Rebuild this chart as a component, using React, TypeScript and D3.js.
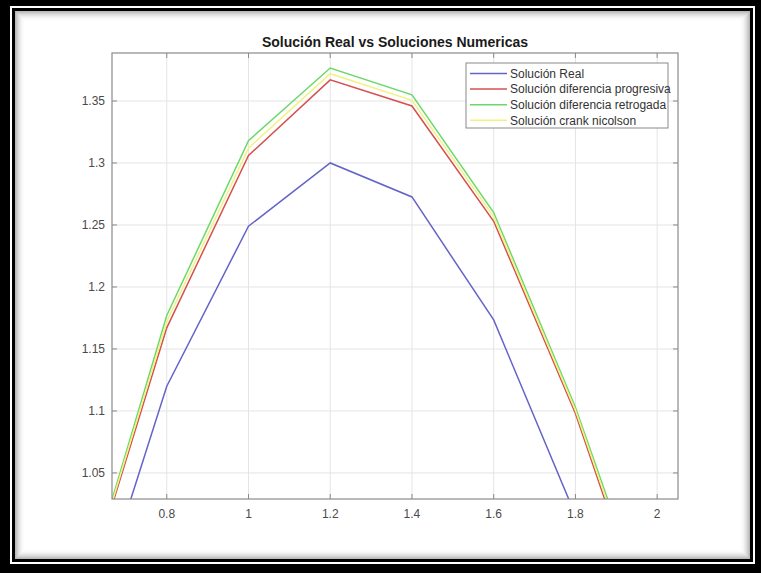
import React from "react";
import * as d3 from "d3";

const xs = [0.6, 0.8, 1.0, 1.2, 1.4, 1.6, 1.8, 2.0];
const real = [0.913, 1.12, 1.249, 1.3, 1.2726, 1.1734, 1.016, 0.82];
const progresiva = [0.953, 1.167, 1.306, 1.367, 1.346, 1.253, 1.098, 0.905];
const retrogada = [0.955, 1.177, 1.318, 1.3766, 1.355, 1.26, 1.103, 0.915];
const crank = [0.954, 1.172, 1.312, 1.372, 1.3505, 1.2565, 1.1005, 0.91];
const xTicks = [0.8, 1, 1.2, 1.4, 1.6, 1.8, 2];
const yTicks = [1.05, 1.1, 1.15, 1.2, 1.25, 1.3, 1.35];
const seriesNames = [
  "Solución Real",
  "Solución diferencia progresiva",
  "Solución diferencia retrogada",
  "Solución crank nicolson",
];
const seriesColors = ["#6464c8", "#d65050", "#6cd86c", "#f2f284"];
const title = "Solución Real vs Soluciones Numericas";

export default function App() {
  const W = 761, H = 573;
  const L = 112, R = 678, T = 53, B = 499;
  const x = d3.scaleLinear().domain([0.666, 2.051]).range([L, R]);
  const y = d3.scaleLinear().domain([1.029, 1.3887]).range([B, T]);
  const line = d3.line<number>().x((_, i) => x(xs[i])).y((d) => y(d));
  const data = [real, progresiva, retrogada, crank];
  const axisColor = "#8a8a8a";
  const textColor = "#4a4a4a";
  const font = "Liberation Sans, Arial, sans-serif";
  const shadows = d3.range(10);
  const lg = { x0: 466, x1: 668, y0: 63, y1: 128 };
  return (
    <svg width={W} height={H} style={{ position: "absolute", left: 0, top: 0 }} fontFamily={font}>
      <rect x={0} y={0} width={W} height={H} fill="#000" />
      <rect x={10} y={6} width={745} height={558} fill="#fff" />
      <rect x={12} y={8} width={741} height={554} fill="#000" />
      <rect x={15} y={11} width={735} height={548} fill="#fff" />
      {shadows.map((i) => (
        <rect key={i} x={15.5 + i} y={11.5 + i} width={734 - 2 * i} height={547 - 2 * i}
          fill="none" stroke="#000" strokeOpacity={0.28 * (1 - i / 10) ** 2} />
      ))}
      <defs>
        <clipPath id="plotclip">
          <rect x={L} y={T} width={R - L} height={B - T} />
        </clipPath>
      </defs>
      {xTicks.map((t) => (
        <line key={"gx" + t} x1={x(t)} x2={x(t)} y1={T} y2={B} stroke="#e4e4e4" />
      ))}
      {yTicks.map((t) => (
        <line key={"gy" + t} x1={L} x2={R} y1={y(t)} y2={y(t)} stroke="#e4e4e4" />
      ))}
      <g clipPath="url(#plotclip)">
        {data.map((d, k) => (
          <path key={k} d={line(d) || ""} fill="none" stroke={seriesColors[k]} strokeWidth={1.5} />
        ))}
      </g>
      <rect x={L} y={T} width={R - L} height={B - T} fill="none" stroke={axisColor} strokeWidth={1.2} />
      {xTicks.map((t) => (
        <g key={"tx" + t}>
          <line x1={x(t)} x2={x(t)} y1={B} y2={B - 5} stroke={axisColor} />
          <line x1={x(t)} x2={x(t)} y1={T} y2={T + 5} stroke={axisColor} />
          <text x={x(t)} y={518} textAnchor="middle" fontSize={12} fill={textColor}>{String(t)}</text>
        </g>
      ))}
      {yTicks.map((t) => (
        <g key={"ty" + t}>
          <line x1={L} x2={L + 5} y1={y(t)} y2={y(t)} stroke={axisColor} />
          <line x1={R} x2={R - 5} y1={y(t)} y2={y(t)} stroke={axisColor} />
          <text x={105} y={y(t) + 4.5} textAnchor="end" fontSize={12} fill={textColor}>{String(t)}</text>
        </g>
      ))}
      <text x={(L + R) / 2} y={47} textAnchor="middle" fontSize={14} fontWeight="bold" fill="#1a1a1a">{title}</text>
      <rect x={lg.x0} y={lg.y0} width={lg.x1 - lg.x0} height={lg.y1 - lg.y0} fill="#fff" stroke={axisColor} />
      {seriesNames.map((n, k) => {
        const yy = 73.5 + k * 15.6;
        return (
          <g key={n}>
            <line x1={470} x2={507} y1={yy} y2={yy} stroke={seriesColors[k]} strokeWidth={1.5} />
            <text x={510} y={yy + 4.3} fontSize={12} fill="#333">{n}</text>
          </g>
        );
      })}
    </svg>
  );
}
